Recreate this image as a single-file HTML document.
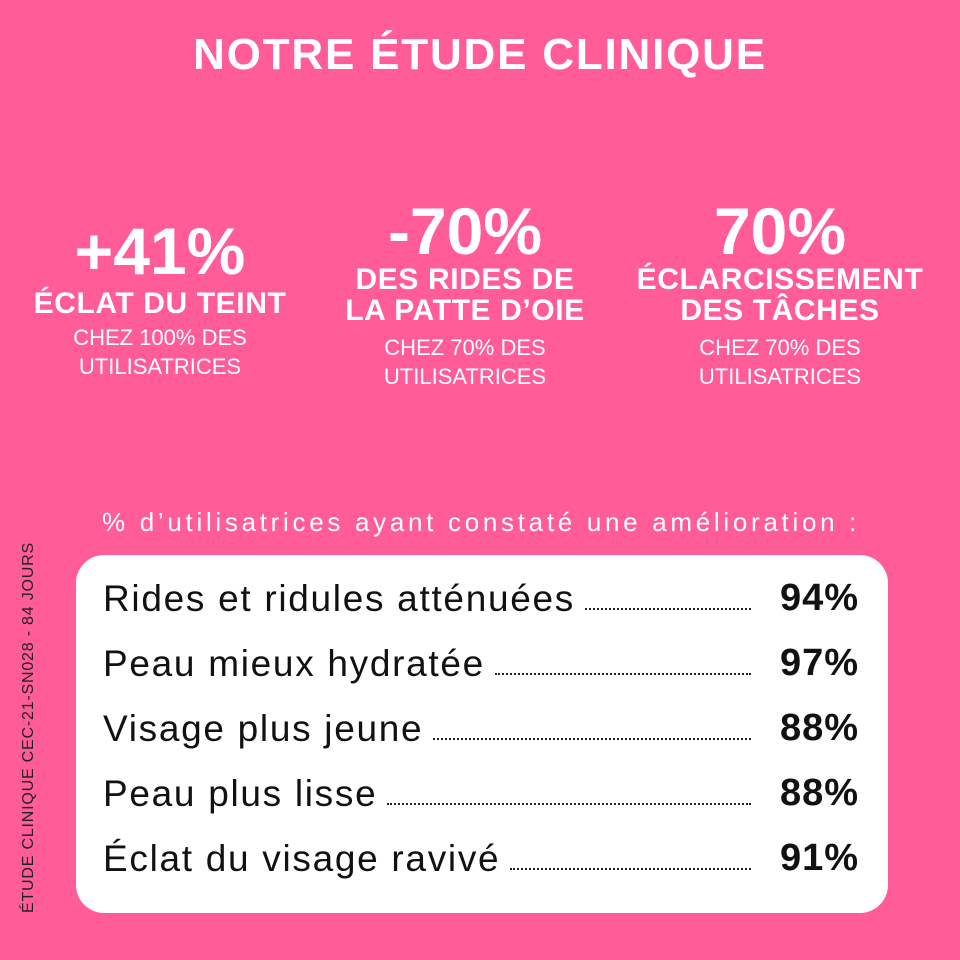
<!DOCTYPE html>
<html><head><meta charset="utf-8"><style>
body{margin:0;width:960px;height:960px;background:#ff5c98;font-family:"Liberation Sans",sans-serif;color:#fff;position:relative;overflow:hidden}
.a{position:absolute;text-align:center;white-space:nowrap}
.b{font-weight:bold}
.big{font-size:66px;font-weight:bold;line-height:1}
.h{font-size:30px;font-weight:bold;line-height:31px;letter-spacing:0.6px}
.s{font-size:22px;line-height:29px}
.box{position:absolute;left:76px;top:555px;width:812px;height:358px;background:#fff;border-radius:28px}
.row{position:absolute;left:103px;width:756px;height:50px;display:flex;align-items:flex-end;color:#111;font-size:37px}
.row .t{white-space:nowrap;letter-spacing:1.7px}
.row .d{flex:1;border-bottom:2px dotted #222;margin:0 6px 10px 10px}
.row .p{font-weight:bold;width:102px;text-align:right;font-size:38px;letter-spacing:1px}
</style></head><body>
<div class="a b" style="left:0;width:960px;top:30px;font-size:44px;letter-spacing:1.8px">NOTRE ÉTUDE CLINIQUE</div>

<div class="a" style="left:10px;width:300px;top:218px"><div class="big">+41%</div><div class="h" style="margin-top:4px">ÉCLAT DU TEINT</div><div class="s" style="margin-top:4px">CHEZ 100% DES<br>UTILISATRICES</div></div>
<div class="a" style="left:315px;width:300px;top:198px"><div class="big">-70%</div><div class="h">DES RIDES DE<br>LA PATTE D’OIE</div><div class="s" style="margin-top:7px">CHEZ 70% DES<br>UTILISATRICES</div></div>
<div class="a" style="left:630px;width:300px;top:198px"><div class="big">70%</div><div class="h">ÉCLARCISSEMENT<br>DES TÂCHES</div><div class="s" style="margin-top:7px">CHEZ 70% DES<br>UTILISATRICES</div></div>

<div class="a" style="left:102px;top:507px;font-size:26px;letter-spacing:3.7px">% d’utilisatrices ayant constaté une amélioration :</div>

<div class="a" style="left:20px;top:913px;font-size:16px;letter-spacing:0.8px;color:#222;transform:rotate(-90deg);transform-origin:0 0;width:370px;text-align:left">ÉTUDE CLINIQUE CEC-21-SN028 - 84 JOURS</div>

<div class="box"></div>
<div class="row" style="top:570px"><span class="t">Rides et ridules atténuées</span><span class="d"></span><span class="p">94%</span></div>
<div class="row" style="top:635px"><span class="t">Peau mieux hydratée</span><span class="d"></span><span class="p">97%</span></div>
<div class="row" style="top:700px"><span class="t">Visage plus jeune</span><span class="d"></span><span class="p">88%</span></div>
<div class="row" style="top:765px"><span class="t">Peau plus lisse</span><span class="d"></span><span class="p">88%</span></div>
<div class="row" style="top:830px"><span class="t">Éclat du visage ravivé</span><span class="d"></span><span class="p">91%</span></div>
</body></html>
